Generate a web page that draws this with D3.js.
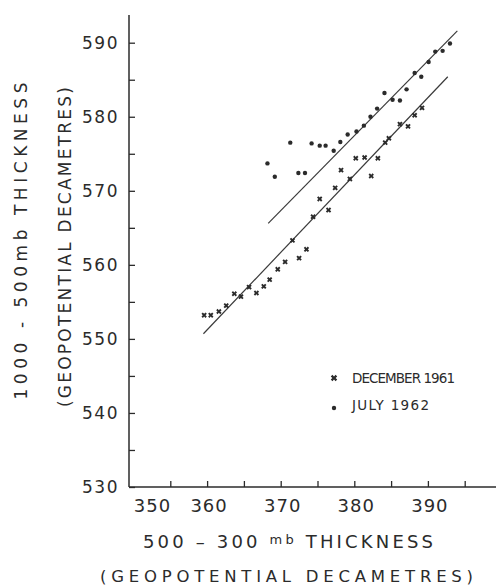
<!DOCTYPE html>
<html>
<head>
<script src="https://cdn.jsdelivr.net/npm/d3@7"></script>
<style>
  body { margin: 0; background: #fff; }
  text { font-family: "DejaVu Sans", sans-serif; fill: #2b2b2b; }
</style>
</head>
<body>
<div id="chart"></div>
<script>
// data
var decemberX = [359.6, 360.5, 361.6, 362.6, 363.7, 364.6, 365.7, 366.7, 367.7, 368.5, 369.6, 370.6, 371.6, 372.5, 373.5, 374.4, 375.3, 376.5, 377.4, 378.2, 379.4, 380.2, 381.4, 382.3, 383.2, 384.2, 384.7, 386.2, 387.3, 388.2, 389.2];
var decemberY = [553.2, 553.2, 553.7, 554.5, 556.1, 555.7, 557.0, 556.2, 557.1, 558.0, 559.4, 560.4, 563.3, 560.9, 562.1, 566.5, 568.9, 567.4, 570.4, 572.8, 571.6, 574.4, 574.5, 572.0, 574.4, 576.5, 577.1, 579.0, 578.7, 580.2, 581.2];
var julyX = [368.2, 369.2, 371.3, 372.4, 373.3, 374.2, 375.3, 376.1, 377.2, 378.1, 379.1, 380.3, 381.3, 382.2, 383.1, 384.1, 385.2, 386.2, 387.1, 388.2, 389.1, 390.1, 391.0, 392.0, 393.0];
var julyY = [573.7, 571.9, 576.5, 572.4, 572.4, 576.4, 576.1, 576.1, 575.4, 576.6, 577.6, 578.0, 578.8, 580.0, 581.1, 583.2, 582.3, 582.2, 583.7, 585.9, 585.4, 587.4, 588.8, 588.9, 589.9];
var upperLine = [[368.3, 565.6], [394.0, 591.6]];
var lowerLine = [[359.5, 550.7], [392.7, 585.4]];
var xTicks = [350, 355, 360, 365, 370, 375, 380, 385, 390, 395];
var yTicks = [530, 535, 540, 545, 550, 555, 560, 565, 570, 575, 580, 585, 590];

var width = 496, height = 587;
var ink = '#2b2b2b';

var svg = d3.select('#chart').append('svg')
  .attr('width', width).attr('height', height);

var x = d3.scaleLinear().domain([350, 400]).range([133.5, 501.5]);
var y = d3.scaleLinear().domain([530, 590]).range([487, 42.7]);
var axisX0 = 129;

// axes lines
svg.append('line').attr('x1', axisX0).attr('x2', axisX0).attr('y1', 15).attr('y2', y(530))
  .attr('stroke', ink).attr('stroke-width', 1.5);
svg.append('line').attr('x1', axisX0).attr('x2', width).attr('y1', y(530)).attr('y2', y(530))
  .attr('stroke', ink).attr('stroke-width', 1.5);

// y axis, ticks point inside
var yAxis = d3.axisLeft(y).tickValues(yTicks).tickSizeInner(-6).tickSizeOuter(0).tickPadding(10)
  .tickFormat(function(d){ return d % 10 === 0 ? d : ''; });
var gy = svg.append('g').attr('transform', 'translate(' + axisX0 + ',0)').call(yAxis);
gy.select('.domain').remove();
gy.selectAll('line').attr('stroke', ink).attr('stroke-width', 1.3);
gy.selectAll('text').style('font-size', '17px').style('letter-spacing', '1.5px').attr('fill', ink);

// x axis, ticks point up
var xAxis = d3.axisBottom(x).tickValues(xTicks.slice(1)).tickSizeInner(-6).tickSizeOuter(0).tickFormat('');
var gx = svg.append('g').attr('transform', 'translate(0,' + y(530) + ')').call(xAxis);
gx.select('.domain').remove();
gx.selectAll('line').attr('stroke', ink).attr('stroke-width', 1.3);

svg.selectAll('.xlab').data(xTicks.filter(function(d){ return d % 10 === 0; }))
  .enter().append('text').attr('class', 'xlab')
  .attr('x', function(d){ return d === 350 ? x(d) + 19 : x(d) + 2; })
  .attr('y', 512)
  .attr('text-anchor', 'middle')
  .style('font-size', '18px').style('letter-spacing', '1px')
  .text(function(d){ return d; });

// regression lines
var line = d3.line().x(function(d){ return x(d[0]); }).y(function(d){ return y(d[1]); });
[upperLine, lowerLine].forEach(function(l){
  svg.append('path').attr('d', line(l)).attr('fill', 'none')
    .attr('stroke', '#3a3a3a').attr('stroke-width', 1.2);
});

// July dots
svg.selectAll('.jul').data(d3.range(julyX.length)).enter().append('circle')
  .attr('class', 'jul')
  .attr('cx', function(i){ return x(julyX[i]); })
  .attr('cy', function(i){ return y(julyY[i]); })
  .attr('r', 2.2).attr('fill', ink);

// December crosses
var sym = d3.symbol().type(d3.symbolCross).size(18);
svg.selectAll('.dec').data(d3.range(decemberX.length)).enter().append('path')
  .attr('class', 'dec')
  .attr('d', sym)
  .attr('transform', function(i){ return 'translate(' + x(decemberX[i]) + ',' + y(decemberY[i]) + ') rotate(45)'; })
  .attr('fill', ink);

// legend
var legend = [{ label: 'DECEMBER 1961', y: 383 }, { label: 'JULY  1962', y: 410 }];
legend.forEach(function(d, i){
  if (i === 0) {
    svg.append('path').attr('d', d3.symbol().type(d3.symbolCross).size(26))
      .attr('transform', 'translate(334,' + (d.y - 5) + ') rotate(45)').attr('fill', ink);
  } else {
    svg.append('circle').attr('cx', 334).attr('cy', d.y - 2).attr('r', 2.2).attr('fill', ink);
  }
  svg.append('text').attr('x', 352).attr('y', d.y)
    .style('font-size', '13.5px')
    .attr('textLength', i === 0 ? 103 : 77).attr('lengthAdjust', 'spacing')
    .text(d.label);
});

// axis titles
var xt = svg.append('text').attr('x', 143).attr('y', 548)
  .style('font-size', '18px').attr('textLength', 290).attr('lengthAdjust', 'spacing');
xt.append('tspan').text('500 \u2013 300 ');
xt.append('tspan').attr('dy', -4).style('font-size', '13px').text('mb');
xt.append('tspan').attr('dy', 4).text(' THICKNESS');

svg.append('text').attr('x', 100).attr('y', 582)
  .style('font-size', '16.5px').attr('textLength', 373).attr('lengthAdjust', 'spacing')
  .text('(GEOPOTENTIAL  DECAMETRES)');

svg.append('text').attr('transform', 'translate(27,241) rotate(-90)')
  .attr('text-anchor', 'middle')
  .style('font-size', '17px').attr('textLength', 317).attr('lengthAdjust', 'spacing')
  .text('1000 - 500mb THICKNESS');

svg.append('text').attr('transform', 'translate(71,247) rotate(-90)')
  .attr('text-anchor', 'middle')
  .style('font-size', '17px').attr('textLength', 320).attr('lengthAdjust', 'spacing')
  .text('(GEOPOTENTIAL  DECAMETRES)');
</script>
</body>
</html>
